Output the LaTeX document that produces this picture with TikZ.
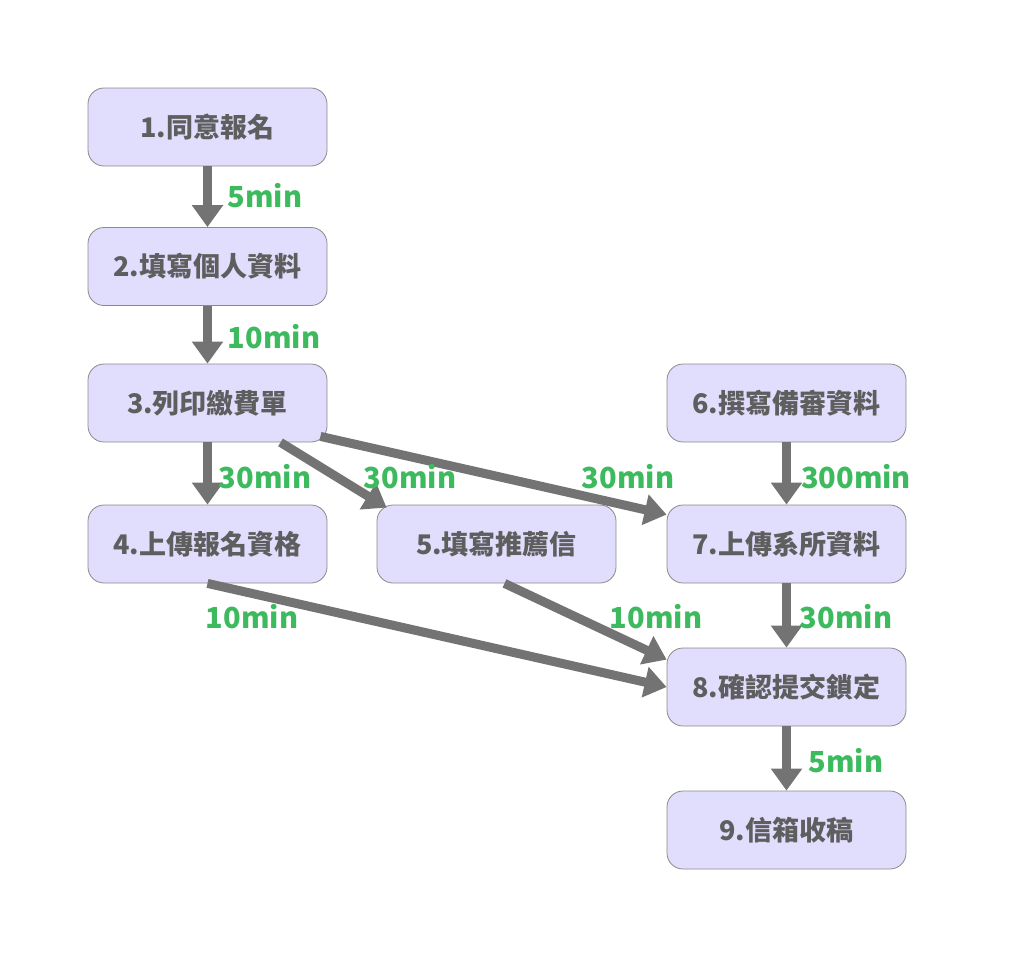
\documentclass[tikz,border=0pt]{standalone}
\usepackage{fontspec}
\newfontfamily\cjk{Noto Sans CJK TC}
\usetikzlibrary{arrows.meta,positioning}
\definecolor{boxfill}{HTML}{E1DDFD}
\definecolor{boxline}{HTML}{8A8A8A}
\definecolor{boxtext}{HTML}{5E5E5E}
\definecolor{arrowgray}{HTML}{737373}
\definecolor{timegreen}{HTML}{3DBA5E}
\tikzset{>={Triangle[length=22pt,width=30pt]}}
\tikzset{stepbox/.style={draw=boxline, line width=0.8pt, fill=boxfill, rounded corners=16pt,
    minimum width=239pt, minimum height=78pt, inner sep=0pt,
    text=boxtext, font=\cjk\bfseries\fontsize{27}{32}\selectfont}}
\tikzset{flow/.style={->, draw=arrowgray, line width=9pt}}
\tikzset{mins/.style={text=timegreen, font=\cjk\bfseries\fontsize{29}{34}\selectfont, inner sep=0pt}}

\begin{document}
\begin{tikzpicture}[x=1pt,y=-1pt]
      \useasboundingbox (0,0) rectangle (1024,958);
      \node[stepbox] (n1) at (207.5,127) {1.同意報名};
      \node[stepbox] (n2) at (207.5,266.5) {2.填寫個人資料};
      \node[stepbox] (n3) at (207.5,403) {3.列印繳費單};
      \node[stepbox] (n4) at (207.5,544) {4.上傳報名資格};
      \node[stepbox] (n5) at (496.5,544) {5.填寫推薦信};
      \node[stepbox] (n6) at (786.5,403) {6.撰寫備審資料};
      \node[stepbox] (n7) at (786.5,544) {7.上傳系所資料};
      \node[stepbox] (n8) at (786.5,687) {8.確認提交鎖定};
      \node[stepbox] (n9) at (786.5,830) {9.信箱收稿};
      % connectors
      \draw[flow] (n1) -- (n2);
      \draw[flow] (n2) -- (n3);
      \draw[flow] (n3) -- (n4);
      \draw[flow] ([xshift=73pt]n3.south) -- ([xshift=10pt,yshift=-3pt]n5.north west);
      \draw[flow] ([xshift=-7pt,yshift=6pt]n3.south east) -- ([yshift=-10pt]n7.north west);
      \draw[flow] (n6) -- (n7);
      \draw[flow] (n4.south) -- (n8.west);
      \draw[flow] ([xshift=8pt]n5.south) -- ([yshift=-12pt]n8.north west);
      \draw[flow] (n7) -- (n8);
      \draw[flow] (n8) -- (n9);
      % times
      \node[mins] (t12) at (265,196) {5min};
      \node[mins] (t23) at (274,337) {10min};
      \node[mins] (t34) at (265,477) {30min};
      \node[mins] (t35) at (410,477) {30min};
      \node[mins] (t37) at (628,477) {30min};
      \node[mins] (t67) at (856,477) {300min};
      \node[mins] (t48) at (252,617) {10min};
      \node[mins] (t58) at (656,617) {10min};
      \node[mins] (t78) at (846,617) {30min};
      \node[mins] (t89) at (846,761) {5min};
\end{tikzpicture}
\end{document}
